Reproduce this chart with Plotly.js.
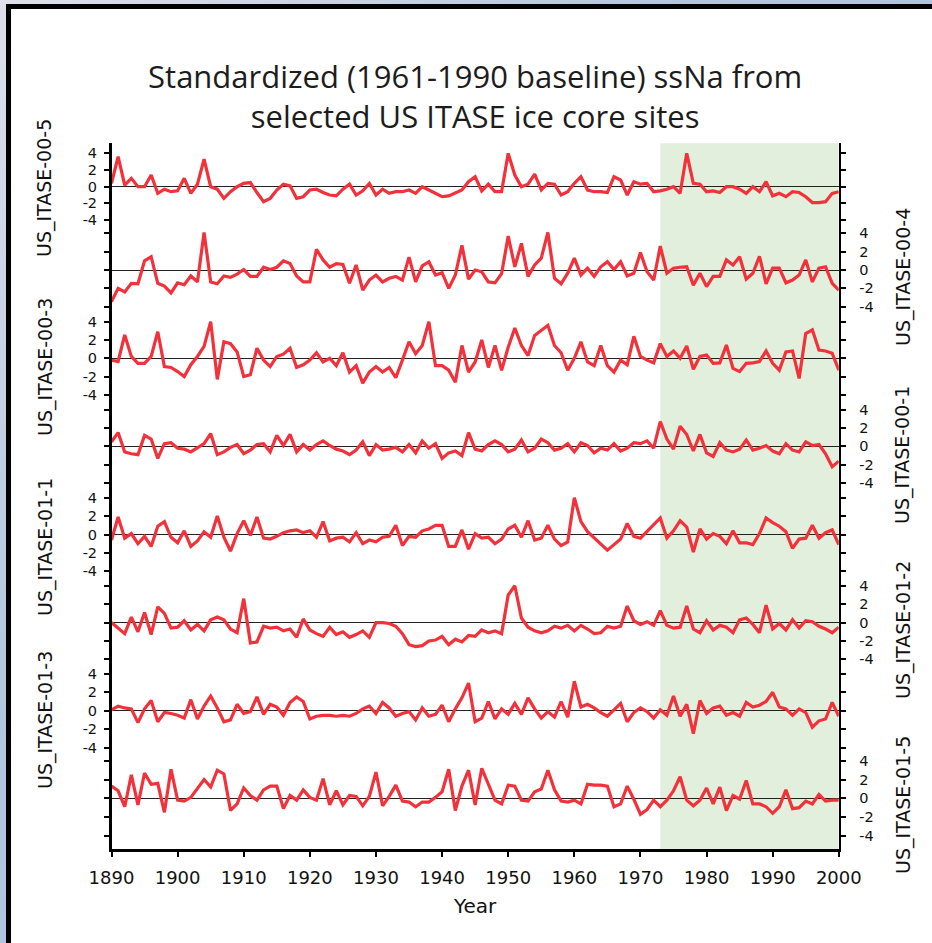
<!DOCTYPE html>
<html>
<head>
<meta charset="utf-8">
<script src="https://cdn.plot.ly/plotly-3.0.1.min.js"></script>
<style>
  html,body{margin:0;padding:0;width:932px;height:943px;overflow:hidden;}
  body{background:linear-gradient(135deg,#dedfeb 0%,#b4c7df 35%,#a3bddb 100%);position:relative;}
  #frame{position:absolute;left:6px;top:4px;width:926px;height:939px;background:#fff;border-left:5px solid #000;border-top:5px solid #000;box-sizing:border-box;}
  #chart{position:absolute;left:0;top:0;width:932px;height:943px;}
</style>
</head>
<body>
<div id="frame"></div>
<div id="chart"></div>
<script>
// ---------------- data ----------------
const years = [
 1890,1891,1892,1893,1894,1895,1896,1897,1898,1899,
 1900,1901,1902,1903,1904,1905,1906,1907,1908,1909,
 1910,1911,1912,1913,1914,1915,1916,1917,1918,1919,
 1920,1921,1922,1923,1924,1925,1926,1927,1928,1929,
 1930,1931,1932,1933,1934,1935,1936,1937,1938,1939,
 1940,1941,1942,1943,1944,1945,1946,1947,1948,1949,
 1950,1951,1952,1953,1954,1955,1956,1957,1958,1959,
 1960,1961,1962,1963,1964,1965,1966,1967,1968,1969,
 1970,1971,1972,1973,1974,1975,1976,1977,1978,1979,
 1980,1981,1982,1983,1984,1985,1986,1987,1988,1989,
 1990,1991,1992,1993,1994,1995,1996,1997,1998,1999,
 2000];

const siteNames = ['US_ITASE-00-5','US_ITASE-00-4','US_ITASE-00-3','US_ITASE-00-1',
                   'US_ITASE-01-1','US_ITASE-01-2','US_ITASE-01-3','US_ITASE-01-5'];

const s_00_5 = [
 0.4,3.6,0.2,1.0,0,0,1.4,-0.8,-0.3,-0.6,
 -0.5,1.0,-0.8,0.3,3.3,0,-0.3,-1.4,-0.6,0,
 0.4,0.5,-0.7,-1.8,-1.4,-0.4,0.3,0.1,-1.4,-1.2,
 -0.4,-0.3,-0.7,-1.0,-1.1,-0.3,0.3,-1.0,-0.5,0.4,
 -1.0,-0.3,-0.8,-0.6,-0.6,-0.4,-0.8,0,-0.4,-0.8,
 -1.2,-1.1,-0.8,-0.4,0.6,1.2,-0.5,0.3,-0.6,-0.6,
 4.0,1.4,0,0.3,1.5,-0.4,0.4,0.3,-1.0,-0.6,
 0.4,1.2,-0.4,-0.6,-0.6,-0.7,1.2,0.8,-1.0,0.6,
 0.3,0.4,-0.6,-0.5,-0.3,0,-0.8,4.0,0.4,0.3,
 -0.6,-0.5,-0.7,0,0,-0.3,-0.8,0,-0.6,0.6,
 -1.1,-0.8,-1.2,-0.6,-0.7,-1.2,-1.9,-1.9,-1.8,-0.8,
 -0.6];

const s_00_4 = [
 -3.45,-2.0,-2.4,-1.45,-1.5,1.0,1.45,-1.45,-1.75,-2.5,
 -1.4,-1.6,-0.65,-1.3,4.1,-1.3,-1.5,-0.65,-0.8,-0.45,
 0.05,-0.7,-0.7,0.3,0.05,0.3,1.0,0.7,-0.65,-1.3,
 -1.3,2.25,1.1,0.3,0.7,0.6,-1.45,0.55,-2.2,-1.1,
 -0.55,-1.3,-0.9,-0.7,-1.1,1.4,-1.3,0.45,0.9,-0.55,
 -0.3,-2.0,-0.55,2.7,-1.0,0,-0.2,-1.3,-1.4,-0.4,
 3.7,0.35,2.9,-0.7,0.55,1.3,4.1,-0.9,-1.5,-0.35,
 1.3,-0.55,0.2,-0.7,0.35,0.9,0.05,0.9,-0.65,-0.35,
 1.9,-0.2,-1.1,2.6,-0.35,0.2,0.3,0.35,-1.65,-0.35,
 -1.8,-0.7,-0.7,1.1,0.55,1.45,-1.0,-0.35,1.5,-1.5,
 0.2,0.2,-1.4,-1.1,-0.55,1.1,-1.3,0.2,0.35,-1.45,
 -2.2];

const s_00_3 = [
 -0.2,-0.35,2.55,0.2,-0.55,-0.55,0.2,2.9,-0.9,-1.0,
 -1.45,-2.0,-0.7,0.2,1.3,4.0,-2.3,1.8,1.6,0.7,
 -2.0,-1.8,1.1,-0.2,-0.9,0.2,0.45,1.1,-1.0,-0.7,
 -0.2,0.6,-0.4,0,-0.8,0.6,-1.5,-0.8,-2.7,-1.5,
 -0.9,-1.5,-1.0,-2.1,-0.2,1.8,0.5,1.4,4.0,-0.8,
 -0.8,-1.3,-2.6,1.4,-1.5,-0.4,2.0,-1.0,1.4,-1.3,
 1.2,3.3,1.4,0.3,2.5,3.1,3.6,1.4,0.6,-1.3,
 0,1.8,-0.4,-0.8,1.4,-0.8,-1.5,-0.2,-0.7,2.4,
 0.2,-0.2,-0.5,1.6,0.2,0.8,0,1.35,-1.2,0.2,
 0.35,-0.55,-0.5,1.45,-1.1,-1.45,-0.55,-0.5,-0.35,0.8,
 -0.55,-1.3,0.7,0.8,-2.2,2.7,3.1,0.9,0.8,0.55,
 -1.3];

const s_00_1 = [
 0.5,1.5,-0.6,-0.8,-0.9,1.2,0.8,-1.3,0.3,0.4,
 -0.2,-0.3,-0.6,-0.2,0.3,1.4,-0.9,-0.6,-0.1,0.2,
 -0.8,-0.4,0.2,0.3,-0.6,1.2,0.1,1.3,-0.6,0.2,
 -0.4,0.2,0.6,0.1,-0.3,-0.5,-0.9,-0.4,0.5,-1.0,
 0.2,-0.4,-0.3,-0.1,-0.6,0.2,-0.7,0.6,-0.2,0.3,
 -1.3,-0.7,-0.5,-1.0,1.5,-0.3,-0.5,0.2,0.6,0.2,
 -0.6,-0.3,0.7,-0.6,-0.2,0.8,0.4,-0.4,-0.2,0.3,
 -0.6,0.4,0.1,-0.7,-0.2,-0.4,0.3,-0.5,-0.2,0.4,
 0.3,0.6,-0.2,2.7,0.8,-0.3,2.2,1.3,-0.5,1.3,
 -0.7,-1.1,0.4,-0.4,-0.6,-0.3,0.7,-0.4,-0.2,0.1,
 -0.5,-0.8,0.3,-0.4,-0.6,0.5,0.1,0.2,-0.8,-2.2,
 -1.6];

const s_01_1 = [
 -0.6,1.9,-0.4,0.1,-1.0,-0.2,-1.3,0.9,1.4,-0.3,
 -0.9,0.4,-1.3,-0.7,0.3,-0.3,2.0,-0.3,-1.8,0.1,
 1.5,-0.1,1.9,-0.4,-0.5,-0.2,0.2,0.4,0.5,0.2,
 0.4,-0.3,1.4,-0.7,-0.4,-0.3,-0.8,0.2,-1.0,-0.6,
 -0.8,-0.3,-0.2,1.0,-1.2,-0.2,-0.3,0.4,0.6,1.0,
 1.0,-1.3,-1.3,0.5,-1.6,0.1,-0.4,-0.3,-1.0,-0.5,
 0.6,1.0,-0.3,1.5,-0.6,-0.4,1.0,-0.5,-1.2,-0.8,
 4.0,1.4,0.3,-0.4,-1.0,-1.7,-1.1,-0.5,1.2,-0.2,
 -0.4,0.3,1.0,1.8,-0.4,0.4,1.5,0.8,-1.9,0.6,
 -0.5,0.1,-0.2,-1.0,0.4,-0.9,-0.9,-1.1,0.1,1.8,
 1.3,0.9,0.3,-1.5,-0.5,-0.4,1.0,-0.4,0.2,0.5,
 -1.1];

const s_01_2 = [
 0,-0.6,-1.2,0.6,-1.0,1.1,-1.3,1.7,1.0,-0.6,
 -0.5,0.2,-0.8,-0.2,-0.9,0.3,0.6,0.3,-0.7,-1.1,
 2.6,-2.2,-2.1,-0.4,-0.6,-0.5,-0.9,-0.7,-1.6,0.4,
 -0.8,-1.2,-1.5,-0.5,-1.3,-1.0,-1.6,-1.3,-0.9,-1.6,
 0,0,-0.1,-0.4,-1.2,-2.4,-2.6,-2.5,-2.0,-1.9,
 -1.5,-2.4,-1.8,-2.1,-1.4,-1.5,-0.8,-1.1,-0.9,-1.2,
 3.0,4.0,0.5,-0.5,-0.9,-1.1,-0.9,-0.4,-0.6,-0.3,
 -0.9,-0.3,-0.7,-1.2,-1.1,-0.4,-0.6,-0.4,1.8,0.2,
 -0.2,0.1,-0.3,1.3,-0.3,-0.6,-0.5,1.8,-0.7,-1.1,
 0.2,-0.8,-0.3,-0.5,-1.1,0.3,0.5,-0.2,-1.1,1.9,
 -0.7,-0.1,-0.8,0.3,-0.6,0.2,0.1,-0.4,-0.7,-1.1,
 -0.5];

const s_01_3 = [
 0.1,0.5,0.3,0.2,-1.3,0.2,1.1,-1.2,-0.2,-0.3,
 -0.5,-0.8,1.2,-0.9,0.5,1.6,0.3,-1.2,-1.0,0.7,
 -0.3,-0.1,1.5,-0.4,0.7,0.4,-0.5,0.9,1.5,1.0,
 -0.9,-0.6,-0.5,-0.5,-0.6,-0.5,-0.6,-0.3,0.2,0.5,
 -0.3,0.9,0.3,-0.6,-0.3,-0.1,-1.0,0.3,-0.6,-0.4,
 0.6,-1.2,0.2,1.4,3.0,-1.2,-0.8,1.0,-0.9,0.2,
 -0.4,0.8,-0.4,1.4,0.2,-0.8,-0.1,-0.7,1.0,-0.7,
 3.2,0.4,0.7,0.3,-0.2,-0.6,0.1,0.8,-1.2,-0.2,
 0.3,-0.1,-0.8,0.1,-0.5,1.6,-0.6,0.7,-2.5,1.1,
 -0.3,0.3,0.5,-0.5,-0.2,-0.6,0.9,0.4,0.6,1.0,
 2.0,0.4,0.2,-0.5,0.2,-0.2,-1.8,-1.1,-0.9,0.9,
 -0.6];

const s_01_5 = [
 1.3,0.8,-0.9,2.5,-0.7,2.7,1.5,1.6,-1.5,3.1,
 -0.2,-0.3,0.1,1.0,2.0,1.2,3.0,2.6,-1.3,-0.6,
 1.1,0.3,-0.2,0.9,1.3,1.3,-1.1,0.3,-0.2,0.9,
 0.1,-0.2,2.1,-0.7,0.8,-0.7,0.3,0.2,-0.8,0.2,
 2.8,-0.8,0.2,1.4,-0.3,-0.4,-0.9,-0.4,-0.4,0.1,
 0.7,3.1,-1.3,1.3,3.0,-0.7,3.2,1.5,-0.2,-0.6,
 1.4,1.3,-0.2,-0.3,0.7,1.0,3.0,0.9,-0.3,-0.4,
 -0.2,-0.6,1.5,1.4,1.4,1.3,-0.9,-0.6,1.3,-0.1,
 -1.7,-1.2,-0.2,-0.9,-0.2,0.8,2.3,-0.2,-0.8,-0.2,
 1.1,-0.6,1.2,-1.3,0.3,-0.1,1.9,-0.6,-0.6,-0.9,
 -1.6,-0.9,0.9,-1.1,-1.0,-0.3,-0.6,0.4,-0.3,-0.2,
 -0.2];

const seriesList = [s_00_5, s_00_4, s_00_3, s_00_1, s_01_1, s_01_2, s_01_3, s_01_5];

const yTickVals = [-4, -2, 0, 2, 4];
const yTickText = ['-4', '-2', '0', '2', '4'];
const xTickVals = [1890, 1900, 1910, 1920, 1930, 1940, 1950, 1960, 1970, 1980, 1990, 2000];
const xRange = [1890, 2000];
const shadeStart = 1973, shadeEnd = 2000;

const titleText = 'Standardized (1961-1990 baseline) ssNa from<br>selected US ITASE ice core sites';
const xTitleText = 'Year';

// ---------------- layout geometry (pixels) ----------------
const W = 932, H = 943;
const plotLeft = 111.5, plotRight = 838.8;
// per panel: top edge, zero-line position, pixels per unit, bottom edge
const panelGeom = [
  {top:143.3, zero:186.7, ppu:8.33, bottom:227.0, side:'left',  lab:188},
  {top:227.0, zero:270.0, ppu:9.17, bottom:314.0, side:'right', lab:277},
  {top:314.0, zero:358.3, ppu:9.17, bottom:402.0, side:'left',  lab:367},
  {top:402.0, zero:446.4, ppu:9.2,  bottom:490.5, side:'right', lab:455},
  {top:490.5, zero:534.5, ppu:9.2,  bottom:578.5, side:'left',  lab:547},
  {top:578.5, zero:622.6, ppu:9.2,  bottom:666.6, side:'right', lab:630},
  {top:666.6, zero:710.7, ppu:9.2,  bottom:754.5, side:'left',  lab:720},
  {top:754.5, zero:798.3, ppu:9.37, bottom:849.3, side:'right', lab:805}
];
const px = v => v / W;
const py = v => 1 - v / H;

const RED = '#f2313b';
const AXFONT = 'DejaVu Sans, Liberation Sans, Arial, sans-serif';

const traces = [];
const layout = {
  width: W, height: H,
  margin: {l:0, r:0, t:0, b:0, pad:0},
  paper_bgcolor: 'rgba(0,0,0,0)',
  plot_bgcolor: 'rgba(0,0,0,0)',
  showlegend: false,
  title: {
    text: titleText,
    x: px((plotLeft + plotRight) / 2), xref: 'paper', xanchor: 'center',
    y: py(88), yref: 'paper', yanchor: 'middle',
    font: {family: 'Open Sans, Noto Sans, sans-serif', size: 31, color: '#1c1c1c'}
  },
  shapes: [],
  annotations: []
};

const xDomain = [px(plotLeft), px(plotRight)];
const xCommon = {
  domain: xDomain, range: xRange, tickmode: 'array', tickvals: xTickVals,
  showgrid: false, zeroline: false, fixedrange: true, tickwidth: 2, tickcolor: '#000'
};
layout.xaxis = Object.assign({}, xCommon, {
  anchor: 'y8', side: 'bottom', ticks: 'outside', ticklen: 5,
  showline: true, linecolor: '#000', linewidth: 2.5,
  ticktext: xTickVals.map(String),
  tickfont: {family: AXFONT, size: 18, color: '#111'},
  ticklabelstandoff: 6
});
layout.xaxis2 = Object.assign({}, xCommon, {overlaying: 'x', anchor: 'y8', side: 'bottom', ticks: 'inside', ticklen: 5, showticklabels: false, showline: false});
layout.xaxis3 = Object.assign({}, xCommon, {overlaying: 'x', anchor: 'y', side: 'top', ticks: 'outside', ticklen: 4, showticklabels: false, showline: true, linecolor: '#000', linewidth: 2.5});
layout.xaxis4 = Object.assign({}, xCommon, {overlaying: 'x', anchor: 'y', side: 'top', ticks: 'inside', ticklen: 4, showticklabels: false, showline: false});

panelGeom.forEach((g, i) => {
  const n = i + 1;
  const yid = n === 1 ? 'y' : 'y' + n;
  const key = n === 1 ? 'yaxis' : 'yaxis' + n;
  const range = [(g.zero - g.bottom) / g.ppu, (g.zero - g.top) / g.ppu];
  const domain = [py(g.bottom), py(g.top)];
  layout[key] = {
    domain: domain, range: range, anchor: 'x', side: g.side,
    tickmode: 'array', tickvals: yTickVals, ticktext: yTickText,
    ticks: 'outside', ticklen: 5, tickwidth: 2, tickcolor: '#000',
    showline: true, linecolor: '#000', linewidth: 2.5, mirror: 'ticks',
    zeroline: true, zerolinecolor: '#222', zerolinewidth: 1,
    showgrid: false, fixedrange: true,
    tickfont: {family: AXFONT, size: 14.5, color: '#111'},
    ticklabelstandoff: g.side === 'left' ? 4 : 10
  };
  layout['yaxis' + (n + 8)] = {
    overlaying: yid, domain: domain, range: range, anchor: 'x', side: g.side,
    tickmode: 'array', tickvals: yTickVals,
    ticks: 'inside', ticklen: 5, tickwidth: 2, tickcolor: '#000',
    showticklabels: false, showline: false, mirror: 'ticks',
    zeroline: false, showgrid: false, fixedrange: true
  };
  traces.push({
    type: 'scatter', mode: 'lines', x: years, y: seriesList[i],
    xaxis: 'x', yaxis: yid,
    line: {color: RED, width: 3.2, shape: 'linear'},
    hoverinfo: 'skip'
  });
  layout.annotations.push({
    text: siteNames[i], xref: 'paper', yref: 'paper',
    x: px(g.side === 'left' ? 45 : 903), y: py(g.lab),
    xanchor: 'center', yanchor: 'middle', textangle: -90, showarrow: false,
    font: {family: AXFONT, size: 19, color: '#111'}
  });
});

layout.shapes.push({
  type: 'rect', layer: 'below', xref: 'x', yref: 'paper',
  x0: shadeStart, x1: shadeEnd,
  y0: py(panelGeom[7].bottom), y1: py(panelGeom[0].top),
  fillcolor: '#e1efdc', line: {width: 0}
});

layout.annotations.push({
  text: xTitleText, xref: 'paper', yref: 'paper',
  x: px((plotLeft + plotRight) / 2), y: py(906),
  xanchor: 'center', yanchor: 'middle', showarrow: false,
  font: {family: AXFONT, size: 20, color: '#111'}
});

Plotly.newPlot('chart', traces, layout, {displayModeBar: false, staticPlot: true});
</script>
</body>
</html>
